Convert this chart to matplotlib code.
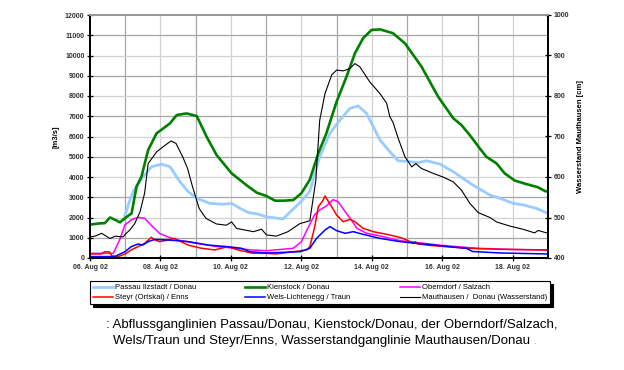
"""Abflussganglinien Donau / Salzach / Traun / Enns, August 2002 (Hochwasser)."""

import matplotlib
matplotlib.use("Agg")
import matplotlib.dates as mdates
import matplotlib.pyplot as plt
import pandas as pd

plt.rcParams["font.family"] = ["Liberation Sans", "DejaVu Sans"]

START = pd.Timestamp("2002-08-06")
END = pd.Timestamp("2002-08-19")

# days since 06 Aug 02 00:00 / discharge m3/s (left axis)
passau_days = [0.99, 1.13, 1.23, 1.47, 1.75, 2.03, 2.27, 2.55, 2.79, 3.03,
               3.4, 3.78, 4.02, 4.26, 4.5, 4.77, 5.01, 5.48, 5.77, 6.0,
               6.24, 6.52, 6.81, 7.09, 7.38, 7.61, 7.85, 8.23, 8.51, 8.75,
               9.08, 9.3, 9.55, 9.93, 10.31, 10.87, 11.35, 11.63, 12.01, 12.3,
               12.67, 13.0]
passau_q = [2100, 2850, 3300, 3930, 4510, 4630, 4510, 3770, 3270, 2950,
            2700, 2650, 2700, 2450, 2240, 2170, 2030, 1930, 2420, 2800,
            3300, 5000, 6160, 6810, 7390, 7510, 7140, 5830, 5250, 4800,
            4760, 4700, 4800, 4640, 4260, 3600, 3110, 2950, 2700, 2620,
            2450, 2200]

kienstock_days = [0, 0.28, 0.42, 0.57, 0.72, 0.85, 1.0, 1.18, 1.32, 1.46,
                  1.65, 1.89, 2.08, 2.27, 2.46, 2.74, 3.03, 3.31, 3.59, 4.02,
                  4.44, 4.73, 5.01, 5.25, 5.5, 5.77, 6.0, 6.24, 6.48, 6.71,
                  7.0, 7.28, 7.52, 7.75, 7.99, 8.23, 8.6, 8.94, 9.41, 9.88,
                  10.31, 10.54, 10.78, 11.06, 11.25, 11.54, 11.77, 12.06, 12.39, 12.72,
                  12.91, 13.0]
kienstock_q = [1650, 1710, 1720, 2000, 1880, 1760, 1980, 2200, 3520, 4010,
               5330, 6160, 6400, 6650, 7060, 7140, 7010, 5990, 5090, 4180,
               3600, 3230, 3060, 2830, 2830, 2860, 3200, 3870, 5170, 6160,
               7720, 8950, 10110, 10850, 11260, 11290, 11100, 10600, 9450, 7970,
               6900, 6570, 6070, 5420, 5000, 4670, 4180, 3820, 3650, 3490,
               3310, 3270]

oberndorf_days = [0, 0.66, 0.84, 0.99, 1.17, 1.36, 1.55, 1.73, 1.97, 2.2,
                  2.48, 3.04, 3.6, 4.17, 4.55, 5.01, 5.77, 6.0, 6.19, 6.38,
                  6.52, 6.71, 6.9, 7.04, 7.28, 7.42, 7.57, 7.85, 8.23, 8.79,
                  9.3, 10.0, 11.0, 12.0, 13.0]
oberndorf_q = [230, 230, 890, 1630, 1880, 2010, 1960, 1630, 1220, 1050,
               890, 720, 560, 480, 400, 360, 480, 800, 1500, 2150,
               2370, 2570, 2880, 2780, 2200, 1880, 1470, 1220, 1090, 860,
               760, 620, 480, 420, 390]

steyr_days = [0, 0.32, 0.42, 0.55, 0.62, 0.8, 1.0, 1.17, 1.36, 1.55,
              1.74, 1.84, 1.98, 2.21, 2.4, 2.58, 2.78, 3.16, 3.54, 3.91,
              4.2, 4.63, 5.01, 5.29, 5.77, 6.15, 6.24, 6.38, 6.48, 6.62,
              6.67, 6.77, 6.86, 7.0, 7.19, 7.38, 7.52, 7.75, 8.04, 8.42,
              8.79, 8.99, 9.17, 9.22, 9.3, 9.74, 10.68, 11.63, 13.0]
steyr_q = [200, 200, 310, 300, 100, 70, 200, 400, 560, 720,
           1020, 890, 810, 890, 970, 810, 640, 480, 400, 560,
           400, 230, 230, 200, 310, 400, 560, 1550, 2530, 2860,
           3060, 2780, 2530, 2120, 1790, 1910, 1790, 1470, 1300, 1170,
           1020, 890, 720, 800, 690, 610, 480, 430, 400]

wels_days = [0, 0.7, 0.99, 1.17, 1.36, 1.5, 1.65, 1.84, 2.2, 2.78,
             3.35, 3.91, 4.3, 4.54, 5.01, 5.96, 6.24, 6.43, 6.67, 6.81,
             7.0, 7.24, 7.47, 7.75, 8.23, 8.79, 9.74, 10.68, 10.86, 11.63,
             12.95]
wels_q = [70, 70, 310, 560, 690, 640, 810, 920, 890, 810,
          640, 560, 480, 310, 250, 310, 480, 970, 1380, 1550,
          1350, 1220, 1300, 1170, 970, 810, 640, 480, 320, 250,
          200]

# water level Mauthausen in cm (right axis)
mauthausen_days = [0, 0.14, 0.33, 0.57, 0.71, 0.94, 1.03, 1.13, 1.27, 1.42,
                   1.55, 1.65, 1.89, 2.08, 2.3, 2.44, 2.63, 2.77, 2.91, 3.1,
                   3.29, 3.59, 3.87, 4.02, 4.16, 4.4, 4.64, 4.87, 5.01, 5.29,
                   5.62, 5.96, 6.24, 6.41, 6.52, 6.67, 6.86, 7.0, 7.19, 7.38,
                   7.52, 7.66, 7.94, 8.23, 8.42, 8.51, 8.6, 8.75, 8.94, 9.13,
                   9.25, 9.41, 9.74, 10.02, 10.31, 10.54, 10.78, 11.02, 11.35, 11.54,
                   11.91, 12.29, 12.62, 12.72, 13.0]
mauthausen_cm = [452, 454, 461, 448, 454, 452, 461, 469, 485, 514,
                 560, 633, 662, 675, 689, 683, 650, 621, 576, 522,
                 498, 484, 481, 489, 473, 469, 465, 471, 457, 454,
                 465, 485, 492, 592, 740, 806, 852, 864, 862, 868,
                 880, 872, 835, 806, 782, 749, 735, 695, 650, 625,
                 633, 621, 609, 600, 588, 568, 535, 512, 500, 489,
                 479, 471, 462, 468, 461]

LABELS = ["Passau Ilzstadt / Donau", "Kienstock / Donau", "Oberndorf / Salzach",
          "Steyr (Ortskai) / Enns", "Wels-Lichtenegg / Traun",
          "Mauthausen /  Donau (Wasserstand)"]

CAPTION_1 = ": Abflussganglinien Passau/Donau, Kienstock/Donau, der Oberndorf/Salzach,"
CAPTION_2 = "Wels/Traun und Steyr/Enns, Wasserstandganglinie Mauthausen/Donau"


def to_time(days):
    return START + pd.to_timedelta(days, unit="D")


fig = plt.figure(figsize=(6.24, 3.70), dpi=100)
ax = fig.add_axes([90 / 624, 1 - 258 / 370, 458 / 624, 243 / 370])
ax2 = ax.twinx()

# grid: every day / every 1000, alternating tones
for d in range(1, 13):
    ax.axvline(START + pd.Timedelta(days=d), color="#a6a6a6" if d % 2 else "#d2d2d2",
               lw=0.9, zorder=0)
for v in range(1000, 12000, 1000):
    ax.axhline(v, color="#a6a6a6" if (v // 1000) % 2 else "#d2d2d2", lw=0.9, zorder=0)

series = [
    (passau_days, passau_q, "#99ccff", 2.0, LABELS[0]),
    (kienstock_days, kienstock_q, "#008000", 1.9, LABELS[1]),
    (oberndorf_days, oberndorf_q, "#ff00ff", 1.1, LABELS[2]),
    (steyr_days, steyr_q, "#ff0000", 1.1, LABELS[3]),
    (wels_days, wels_q, "#0000ff", 1.1, LABELS[4]),
]
handles = {}
for days, q, color, lw, label in series:
    (h,) = ax.plot(to_time(days), q, color=color, lw=lw, label=label, zorder=3)
    handles[label] = h

(hm,) = ax2.plot(to_time(mauthausen_days), mauthausen_cm, color="black", lw=0.8,
                 label=LABELS[5], zorder=3)
handles[LABELS[5]] = hm

ax.set_xlim(START, END)
ax.set_ylim(0, 12000)
ax.set_yticks(range(0, 12001, 1000))
ax2.set_ylim(400, 1000)
ax2.set_yticks(range(400, 1001, 100))

ax.xaxis.set_major_locator(mdates.DayLocator(bymonthday=[6, 8, 10, 12, 14, 16, 18]))
ax.xaxis.set_major_formatter(mdates.DateFormatter("%d. %b %y"))

tick_kw = dict(direction="inout", length=4, width=0.9, labelsize=5, pad=2,
               colors="black")
ax.tick_params(axis="both", **tick_kw)
ax2.tick_params(axis="y", **tick_kw)
for lab in ax.get_xticklabels() + ax.get_yticklabels() + ax2.get_yticklabels():
    lab.set_fontweight("bold")
    lab.set_color("#333333")

for a in (ax, ax2):
    for side in ("left", "bottom", "right"):
        a.spines[side].set_linewidth(1.3)
        a.spines[side].set_color("black")
    a.spines["top"].set_color("#999999")
    a.spines["top"].set_linewidth(1.3)

ax.set_ylabel("[m3/s]", fontsize=5.5, fontweight="bold", labelpad=4)
ax2.set_ylabel("Wasserstand Mauthausen [cm]", fontsize=5.5, fontweight="bold", labelpad=6)

order = [LABELS[0], LABELS[3], LABELS[1], LABELS[4], LABELS[2], LABELS[5]]
leg = fig.legend([handles[k] for k in order], order, ncol=3, mode="expand",
                 loc="lower left",
                 bbox_to_anchor=(90 / 624, 1 - 304 / 370, 460 / 624, 26 / 370),
                 fontsize=5.5, frameon=True, fancybox=False, borderaxespad=0,
                 handlelength=2.6, handletextpad=0.3, labelspacing=0.35,
                 borderpad=0.35,
                 shadow={"color": "black", "alpha": 1.0, "ox": 2, "oy": -2})
leg.get_frame().set_edgecolor("black")
leg.get_frame().set_linewidth(0.8)

fig.text(106 / 624, 1 - 325 / 370, CAPTION_1, fontsize=9.5, va="center", ha="left")
t2 = fig.text(113 / 624, 1 - 341 / 370, CAPTION_2, fontsize=9.5, va="center", ha="left")
ax.annotate(" .", xy=(1, 0), xycoords=t2, va="bottom", ha="left", fontsize=9.5,
            color="#d9b98a", annotation_clip=False)

fig.savefig("out.png", dpi=100)
